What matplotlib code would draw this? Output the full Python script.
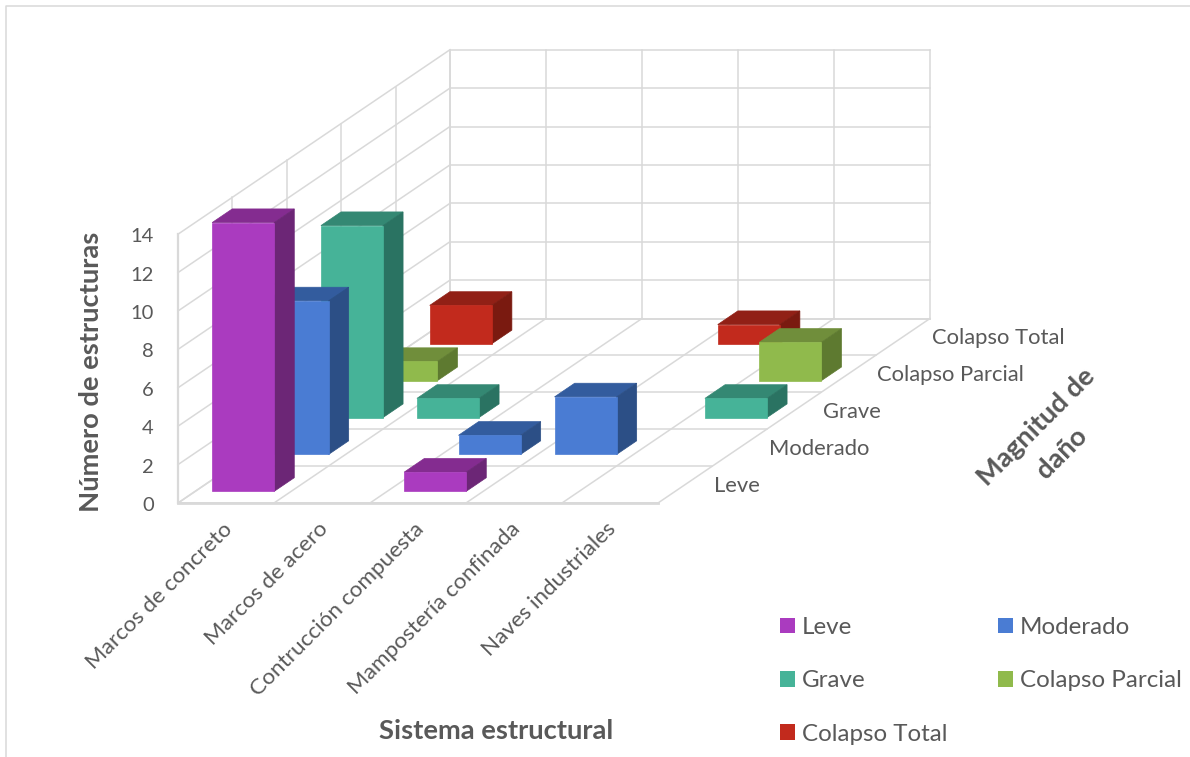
import matplotlib
matplotlib.use("Agg")
import matplotlib.pyplot as plt
from matplotlib.patches import Polygon, Patch

# ---- data -------------------------------------------------------------
categories = ["Marcos de concreto", "Marcos de acero", "Contrucción compuesta",
              "Mampostería confinada", "Naves industriales"]
series_names = ["Leve", "Moderado", "Grave", "Colapso Parcial", "Colapso Total"]
leve = [14, 0, 1, 0, 0]
moderado = [8, 0, 1, 3, 0]
grave = [10, 1, 0, 0, 1]
colapso_parcial = [1, 0, 0, 0, 2]
colapso_total = [2, 0, 0, 1, 0]
value_ticks = [0, 2, 4, 6, 8, 10, 12, 14]

face_colors = ["#AA3BBF", "#4A7CD3", "#46B398", "#90BA4C", "#C22A1D"]
top_colors = ["#842C90", "#335C9E", "#348873", "#708E3B", "#912016"]
side_colors = ["#6C2676", "#2C4F86", "#2A7362", "#5E7A30", "#7A1A10"]
all_values = [leve, moderado, grave, colapso_parcial, colapso_total]

FONT = "Lato"
GRID = "#D9D9D9"
TEXT = "#595959"
W, H = 1190, 757

fig = plt.figure(figsize=(W / 100, H / 100), dpi=100)
ax = fig.add_axes([0, 0, 1, 1])
ax.set_xlim(0, W)
ax.set_ylim(H, 0)
ax.axis("off")

# oblique projection of the 3-D chart space on to the page
X0, Y0 = 178.0, 503.0     # front-left floor corner
CAT_DX = 96.0             # one category along the front edge
SER_DX, SER_DY = 54.4, -36.9   # one series in depth
VAL_DY = -19.2            # one unit of value
BAR_W = 0.646             # bar width, share of a category
BAR_D = 0.37              # bar depth, share of a series


def proj(c, s, v):
    return (X0 + c * CAT_DX + s * SER_DX, Y0 + s * SER_DY + v * VAL_DY)


n_c, n_s, v_max = len(categories), len(series_names), value_ticks[-1]


def line(a, b, lw=1.1, z=1):
    ax.plot([a[0], b[0]], [a[1], b[1]], color=GRID, lw=lw, zorder=z,
            solid_capstyle="projecting")


# chart frame, left and top only
ax.plot([6, 6, W], [H, 5.5, 5.5], color=GRID, lw=1.1, zorder=1)

# walls and floor
for v in value_ticks:
    line(proj(0, 0, v), proj(0, n_s, v))
    line(proj(0, n_s, v), proj(n_c, n_s, v))
for s in range(n_s + 1):
    line(proj(0, s, 0), proj(0, s, v_max))
    line(proj(0, s, 0), proj(n_c, s, 0))
for c in range(n_c + 1):
    line(proj(c, n_s, 0), proj(c, n_s, v_max))
    line(proj(c, 0, 0), proj(c, n_s, 0))
line(proj(0, 0, 0), proj(n_c, 0, 0), lw=2.0, z=2)
line(proj(0, 0, 0), proj(0, 0, v_max), lw=1.6, z=2)

# bars, painted from back to front
z = 3
for s in reversed(range(n_s)):
    for c in range(n_c):
        v = all_values[s][c]
        if v == 0:
            continue
        c0 = c + (1 - BAR_W) / 2
        c1 = c0 + BAR_W
        s0 = s + (1 - BAR_D) / 2
        s1 = s0 + BAR_D
        faces = [
            ([proj(c0, s0, v), proj(c1, s0, v), proj(c1, s1, v), proj(c0, s1, v)], top_colors[s]),
            ([proj(c1, s0, 0), proj(c1, s1, 0), proj(c1, s1, v), proj(c1, s0, v)], side_colors[s]),
            ([proj(c0, s0, 0), proj(c1, s0, 0), proj(c1, s0, v), proj(c0, s0, v)], face_colors[s]),
        ]
        for pts, col in faces:
            ax.add_patch(Polygon(pts, closed=True, facecolor=col, edgecolor=col,
                                 lw=0.5, zorder=z, joinstyle="miter"))
            z += 1

# value axis labels
for v in value_ticks:
    x, y = proj(0, 0, v)
    ax.text(x - 24, y + 2.5, str(v), ha="right", va="center", fontsize=14.5,
            color=TEXT, family=FONT)

# category labels
for c, name in enumerate(categories):
    x, y = proj(c + 0.5, 0, 0)
    ax.text(x + 3, y + 23, name, rotation=45, rotation_mode="anchor", ha="right",
            va="center", fontsize=16.2, color=TEXT, family=FONT)

# series labels
for s, name in enumerate(series_names):
    x, y = proj(n_c, s + 0.5, 0)
    ax.text(x + 29, y + 1, name, ha="left", va="center", fontsize=15.8,
            color=TEXT, family=FONT)

# axis titles
ax.text(91, 372, "Número de estructuras", rotation=90, ha="center", va="center",
        fontsize=19.7, fontweight="bold", color=TEXT, family=FONT)
ax.text(496, 731, "Sistema estructural", ha="center", va="center",
        fontsize=19.7, fontweight="bold", color=TEXT, family=FONT)
ax.text(1049, 440, "Magnitud de\ndaño", rotation=45, ha="center", va="center",
        rotation_mode="anchor", multialignment="center", linespacing=1.6,
        fontsize=19.7, fontweight="bold", color=TEXT, family=FONT)

# legend
handles = [Patch(facecolor=col, edgecolor="none") for col in face_colors]
order = [0, 2, 4, 1, 3]
ax.legend([handles[i] for i in order], [series_names[i] for i in order],
          ncol=2, loc="upper left", bbox_to_anchor=(780 / W, 1 - 617 / H),
          bbox_transform=ax.transAxes, frameon=False, borderpad=0, borderaxespad=0,
          handlelength=0.62, handleheight=0.62, handletextpad=0.29,
          labelspacing=1.34, columnspacing=2.1, labelcolor=TEXT,
          prop={"family": FONT, "size": 17.4})

fig.savefig("out.png", dpi=100)
